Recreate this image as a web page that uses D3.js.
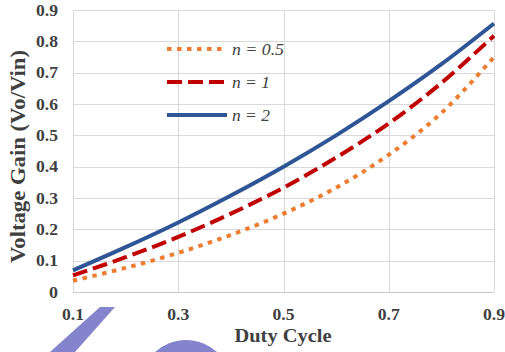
<!DOCTYPE html>
<meta charset="utf-8">
<style>
  body { margin: 0; background: #fff; }
  svg text { font-family: "Liberation Serif", "Times New Roman", "DejaVu Serif", serif; fill: #404040; }
</style>
<script src="https://d3js.org/d3.v7.min.js"></script>
<body>
</body>
<script>
// duty cycle samples and voltage gain
var duty = [0.1, 0.2, 0.3, 0.4, 0.5, 0.6, 0.7, 0.8, 0.9];
var gainHalf = [0.036, 0.077, 0.125, 0.182, 0.25, 0.333, 0.438, 0.571, 0.75];
var gainOne = [0.053, 0.111, 0.176, 0.25, 0.333, 0.429, 0.538, 0.667, 0.818];
var gainTwo = [0.069, 0.143, 0.222, 0.308, 0.4, 0.5, 0.609, 0.727, 0.857];
var seriesNames = ["n = 0.5", "n = 1", "n = 2"];
var xTicks = [0.1, 0.3, 0.5, 0.7, 0.9];
var yTicks = [0, 0.1, 0.2, 0.3, 0.4, 0.5, 0.6, 0.7, 0.8, 0.9];

var width = 505,
    height = 352,
    serif = "'Liberation Serif', 'Times New Roman', 'DejaVu Serif', serif";

var svg = d3.select("body").append("svg")
    .attr("width", width)
    .attr("height", height);

var x = d3.scaleLinear().domain([0.1, 0.9]).range([73, 494]);
var y = d3.scaleLinear().domain([0, 0.9]).range([292, 10]);

// gridlines
svg.append("g").selectAll("line").data(yTicks).enter().append("line")
    .attr("x1", x(0.1)).attr("x2", x(0.9))
    .attr("y1", function(d) { return Math.round(y(d)) + 0.5; })
    .attr("y2", function(d) { return Math.round(y(d)) + 0.5; })
    .attr("stroke", function(d) { return d == 0 ? "#c8c8c8" : "#d9d9d9"; })
    .attr("stroke-width", 1);

svg.append("g").selectAll("line").data(xTicks).enter().append("line")
    .attr("y1", y(0)).attr("y2", y(0.9))
    .attr("x1", function(d) { return Math.round(x(d)) + 0.5; })
    .attr("x2", function(d) { return Math.round(x(d)) + 0.5; })
    .attr("stroke", "#d9d9d9")
    .attr("stroke-width", 1);

// tick labels
svg.append("g").selectAll("text").data(yTicks).enter().append("text")
    .attr("x", 58)
    .attr("y", function(d) { return y(d) + 5.5; })
    .attr("text-anchor", "end")
    .style("font-family", serif)
    .attr("font-size", 16)
    .attr("font-weight", "bold")
    .attr("textLength", function(d) { return d == 0 ? 9 : 22; })
    .attr("lengthAdjust", "spacingAndGlyphs")
    .text(function(d) { return d == 0 ? "0" : d3.format(".1f")(d); });

svg.append("g").selectAll("text").data(xTicks).enter().append("text")
    .attr("x", function(d) { return x(d); })
    .attr("y", 320)
    .attr("text-anchor", "middle")
    .style("font-family", serif)
    .attr("font-size", 16)
    .attr("font-weight", "bold")
    .attr("textLength", 22)
    .attr("lengthAdjust", "spacingAndGlyphs")
    .text(function(d) { return d3.format(".1f")(d); });

// axis titles
svg.append("text")
    .attr("x", 283).attr("y", 342)
    .attr("text-anchor", "middle")
    .style("font-family", serif)
    .attr("font-size", 18)
    .attr("font-weight", "bold")
    .attr("textLength", 97)
    .attr("lengthAdjust", "spacingAndGlyphs")
    .text("Duty Cycle");

svg.append("text")
    .attr("transform", "translate(25,156.5) rotate(-90)")
    .attr("text-anchor", "middle")
    .style("font-family", serif)
    .attr("font-size", 20)
    .attr("font-weight", "bold")
    .attr("textLength", 213)
    .attr("lengthAdjust", "spacingAndGlyphs")
    .text("Voltage Gain (Vo/Vin)");

// series
var styles = [
    { color: "#ed7d31", dash: "4.5,5.5", data: gainHalf },
    { color: "#c00000", dash: "15,6", data: gainOne },
    { color: "#2f5597", dash: null, data: gainTwo }
];

var line = d3.line()
    .x(function(d, i) { return x(duty[i]); })
    .y(function(d) { return y(d); })
    .curve(d3.curveCatmullRom);

styles.forEach(function(s) {
    svg.append("path")
        .attr("d", line(s.data))
        .attr("fill", "none")
        .attr("stroke", s.color)
        .attr("stroke-width", 4)
        .attr("stroke-dasharray", s.dash);
});

// legend
var legendY = [49, 82, 115],
    legendW = [52, 38, 38];
styles.forEach(function(s, i) {
    svg.append("line")
        .attr("x1", 167).attr("x2", 227)
        .attr("y1", legendY[i]).attr("y2", legendY[i])
        .attr("stroke", s.color)
        .attr("stroke-width", 4)
        .attr("stroke-dasharray", s.dash);
    svg.append("text")
        .attr("x", 232).attr("y", legendY[i] + 6)
        .style("font-family", serif)
        .attr("font-size", 16)
        .attr("font-style", "italic")
        .attr("textLength", legendW[i])
        .attr("lengthAdjust", "spacingAndGlyphs")
        .text(seriesNames[i]);
});

// watermark shapes along the bottom edge
svg.append("polygon")
    .attr("points", "100,307 115,307 75,352 50,352")
    .attr("fill", "#8484cc");
svg.append("circle")
    .attr("cx", 186).attr("cy", 386).attr("r", 46)
    .attr("fill", "#8484cc");
</script>
